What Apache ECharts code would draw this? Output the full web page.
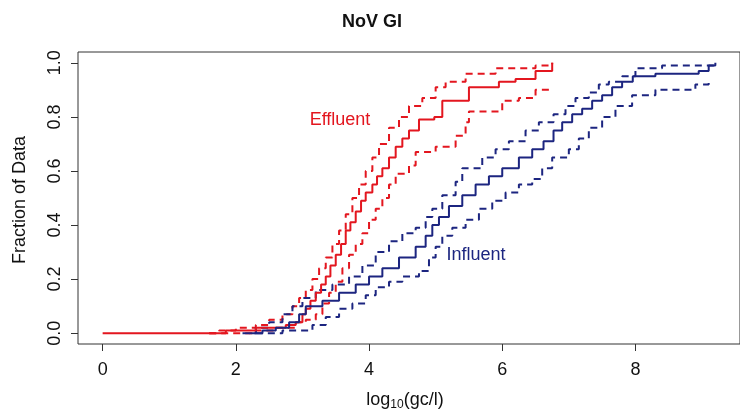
<!DOCTYPE html>
<html>
<head>
<meta charset="utf-8">
<script src="https://cdn.jsdelivr.net/npm/echarts@6/dist/echarts.min.js"></script>
<style>html,body{margin:0;padding:0;background:#fff}#c{width:740px;height:415px}</style>
</head>
<body>
<div id="c"></div>
<script>
var xTicks = [0, 2, 4, 6, 8];
var yTicks = [0, 0.2, 0.4, 0.6, 0.8, 1.0];

var effluentMid = [[0,0],[1.66,0],[1.85,0.01],[2.1,0.01],[2.3,0.02],[2.55,0.02],[2.75,0.03],[2.9,0.04],[3.0,0.07],[3.05,0.09],[3.12,0.12],[3.2,0.15],[3.28,0.18],[3.35,0.21],[3.42,0.25],[3.5,0.29],[3.58,0.33],[3.65,0.38],[3.72,0.41],[3.8,0.45],[3.88,0.49],[3.95,0.52],[4.05,0.55],[4.12,0.58],[4.2,0.61],[4.3,0.65],[4.4,0.69],[4.5,0.72],[4.6,0.75],[4.75,0.79],[4.98,0.80],[5.1,0.86],[5.4,0.86],[5.5,0.91],[5.85,0.91],[5.95,0.93],[6.2,0.94],[6.5,0.97],[6.75,0.99],[6.75,1.0]];
var effluentUpper = [[1.6,0],[1.75,0.01],[2.0,0.02],[2.3,0.03],[2.5,0.05],[2.7,0.07],[2.85,0.1],[2.95,0.13],[3.05,0.16],[3.15,0.2],[3.25,0.24],[3.35,0.28],[3.45,0.33],[3.55,0.38],[3.65,0.44],[3.75,0.5],[3.85,0.55],[3.95,0.6],[4.05,0.65],[4.15,0.7],[4.3,0.76],[4.45,0.8],[4.6,0.84],[4.8,0.87],[5.0,0.91],[5.15,0.93],[5.45,0.96],[5.9,0.98],[6.5,0.99],[6.75,1.0]];
var effluentLower = [[1.6,0],[2.0,0],[2.3,0.01],[2.6,0.02],[2.9,0.04],[3.05,0.05],[3.2,0.07],[3.3,0.11],[3.4,0.15],[3.5,0.19],[3.6,0.24],[3.7,0.29],[3.8,0.33],[3.9,0.37],[4.0,0.42],[4.1,0.46],[4.2,0.5],[4.3,0.55],[4.4,0.59],[4.6,0.62],[4.7,0.67],[5.0,0.69],[5.3,0.73],[5.45,0.78],[5.5,0.82],[5.8,0.82],[6.0,0.86],[6.25,0.87],[6.5,0.9],[6.75,0.9]];

var influentMid = [[2.2,0],[2.4,0.01],[2.6,0.02],[2.8,0.04],[2.95,0.07],[3.05,0.1],[3.3,0.12],[3.55,0.15],[3.8,0.18],[4.0,0.21],[4.2,0.24],[4.45,0.28],[4.7,0.32],[4.85,0.36],[4.95,0.4],[5.05,0.43],[5.2,0.47],[5.4,0.51],[5.6,0.55],[5.8,0.58],[6.0,0.61],[6.25,0.65],[6.45,0.68],[6.62,0.71],[6.77,0.75],[6.9,0.78],[7.05,0.81],[7.2,0.83],[7.35,0.86],[7.5,0.88],[7.65,0.91],[7.8,0.93],[7.96,0.95],[8.3,0.96],[8.95,0.97],[9.1,0.99],[9.2,1.0]];
var influentUpper = [[2.1,0],[2.3,0.02],[2.5,0.04],[2.7,0.07],[2.85,0.1],[3.0,0.13],[3.2,0.16],[3.45,0.18],[3.7,0.21],[3.9,0.25],[4.1,0.3],[4.3,0.34],[4.5,0.37],[4.7,0.39],[4.85,0.43],[4.95,0.46],[5.1,0.51],[5.3,0.56],[5.4,0.61],[5.7,0.65],[5.9,0.68],[6.1,0.71],[6.35,0.75],[6.55,0.78],[6.77,0.81],[6.95,0.84],[7.1,0.87],[7.3,0.89],[7.45,0.92],[7.6,0.93],[7.8,0.95],[8.0,0.98],[8.4,0.99],[9.2,1.0]];
var influentLower = [[2.3,0],[2.7,0.01],[2.95,0.01],[3.15,0.03],[3.35,0.06],[3.55,0.09],[3.75,0.11],[3.95,0.14],[4.1,0.17],[4.3,0.19],[4.5,0.21],[4.75,0.23],[4.9,0.28],[5.0,0.32],[5.1,0.36],[5.25,0.39],[5.45,0.42],[5.65,0.46],[5.85,0.49],[6.05,0.52],[6.25,0.55],[6.45,0.57],[6.6,0.61],[6.75,0.65],[7.0,0.68],[7.15,0.72],[7.3,0.76],[7.5,0.8],[7.7,0.84],[7.95,0.88],[8.3,0.9],[8.9,0.92],[9.1,0.94]];

var RED = '#e3161f';
var NAVY = '#1c2580';
var FONT = '"Liberation Sans", Arial, sans-serif';

function ser(data, color, dashed) {
  return {
    type: 'line', data: data, step: 'end', symbol: 'none', silent: true,
    lineStyle: { color: color, width: 2, type: dashed ? [7, 5] : 'solid' },
    z: dashed ? 2 : 3
  };
}

var chart = echarts.init(document.getElementById('c'), null, { renderer: 'canvas' });
chart.setOption({
  animation: false,
  backgroundColor: '#fff',
  grid: { left: 78, top: 52, width: 671, height: 292, show: true, borderColor: '#333', borderWidth: 1, backgroundColor: 'transparent' },
  xAxis: {
    type: 'value', min: -0.37, max: 9.57,
    axisLine: { show: false, onZero: false },
    splitLine: { show: false },
    axisTick: { show: true, inside: false, length: 7, lineStyle: { color: '#333' }, customValues: xTicks },
    axisLabel: { show: true, customValues: xTicks, margin: 17, color: '#111', fontSize: 18, fontFamily: FONT }
  },
  yAxis: {
    type: 'value', min: -0.04, max: 1.04,
    axisLine: { show: false, onZero: false },
    splitLine: { show: false },
    axisTick: { show: true, inside: false, length: 7, lineStyle: { color: '#333' }, customValues: yTicks },
    axisLabel: { show: true, customValues: yTicks, rotate: 90, margin: 14, color: '#111', fontSize: 18, fontFamily: FONT,
      formatter: function (v) { return v.toFixed(1); } }
  },
  series: [
    ser(effluentUpper, RED, true), ser(effluentLower, RED, true), ser(effluentMid, RED, false),
    ser(influentUpper, NAVY, true), ser(influentLower, NAVY, true), ser(influentMid, NAVY, false)
  ],
  graphic: [
    { type: 'text', x: 372, y: 22, style: { text: 'NoV GI', font: 'bold 18px ' + FONT, fill: '#111', align: 'center', verticalAlign: 'middle' } },
    { type: 'text', x: 340, y: 120, style: { text: 'Effluent', font: '18px ' + FONT, fill: RED, align: 'center', verticalAlign: 'middle' } },
    { type: 'text', x: 476, y: 255, style: { text: 'Influent', font: '18px ' + FONT, fill: NAVY, align: 'center', verticalAlign: 'middle' } },
    { type: 'text', x: 20, y: 200, rotation: Math.PI / 2, style: { text: 'Fraction of Data', font: '18px ' + FONT, fill: '#111', align: 'center', verticalAlign: 'middle' } },
    { type: 'text', x: 405, y: 400, style: { text: '{a|log}{s|10}{a|(gc/l)}', align: 'center', verticalAlign: 'middle',
        rich: { a: { font: '18px ' + FONT, fill: '#111', color: '#111' }, s: { font: '12px ' + FONT, fill: '#111', color: '#111', padding: [9, 0, 0, 0] } } } }
  ]
});
</script>
</body>
</html>
